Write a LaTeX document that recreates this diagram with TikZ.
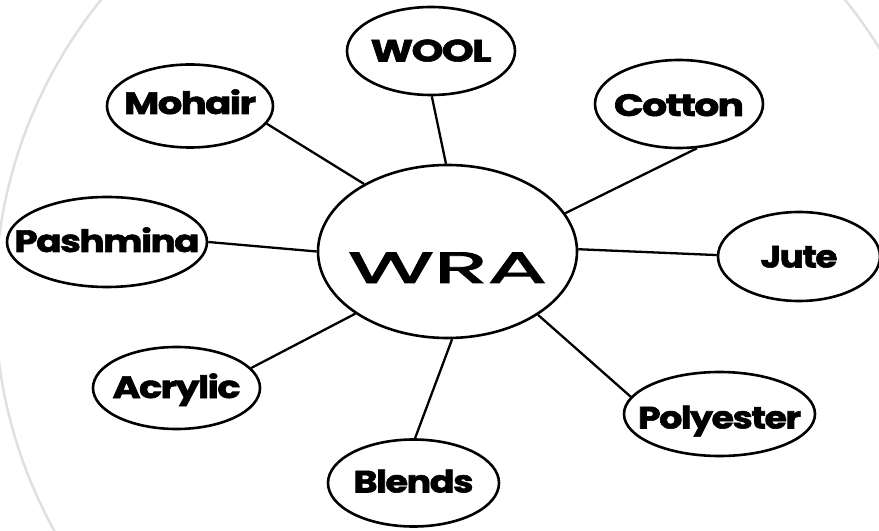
\documentclass[tikz,border=0pt]{standalone}
\usepackage{graphicx}
\usepackage{fontspec}
\setmainfont{Poppins}
\newfontfamily\labfont[LetterSpace=-4,FakeBold=1.8]{Poppins}
\newfontfamily\wrafont[FakeBold=1.8]{Poppins}
\usetikzlibrary{shapes.geometric}
% zero-size label: width, drop of baseline below the centre, text
\newcommand\flab[3]{\makebox[0pt]{\raisebox{-#2}[0pt][0pt]{\resizebox{#1}{\height}{#3}}}}
\tikzset{
  fib/.style={ellipse, draw=black, line width=2.6bp, inner sep=0pt,
    font=\labfont\bfseries\fontsize{31}{33}\selectfont},
  link/.style={draw=black, line width=2.3bp},
}
\begin{document}
\begin{tikzpicture}[x=1bp,y=-1bp]
\useasboundingbox (0,0) rectangle (879,531);
\begin{scope}
  \clip (0,0) rectangle (879,531);
  \draw[black!12, line width=2.5bp] (473,300) circle [radius=478bp];
\end{scope}
\node[fib, minimum width=259bp, minimum height=173bp,
      font=\wrafont\fontsize{44}{46}\selectfont] (wra) at (447.5,251.5) {\flab{199bp}{31.5bp}{WRA}};
\node[fib, minimum width=168bp, minimum height=88bp] (wool) at (431,51) {\flab{121bp}{10.5bp}{WOOL}};
\node[fib, minimum width=166bp, minimum height=83bp] (mohair) at (190,106) {\flab{132bp}{8bp}{Mohair}};
\node[fib, minimum width=200bp, minimum height=90bp] (pashmina) at (107,242) {\flab{185bp}{10bp}{Pashmina}};
\node[fib, minimum width=167bp, minimum height=82bp] (acrylic) at (176.5,388) {\flab{128bp}{10bp}{Acrylic}};
\node[fib, minimum width=171bp, minimum height=87bp] (blends) at (413.5,483) {\flab{120bp}{9.5bp}{Blends}};
\node[fib, minimum width=168bp, minimum height=88bp] (cotton) at (679,104) {\flab{130bp}{12bp}{Cotton}};
\node[fib, minimum width=162bp, minimum height=89bp] (jute) at (799,256.5) {\flab{77bp}{11bp}{Jute}};
\node[fib, minimum width=191bp, minimum height=84bp] (polyester) at (719.5,414) {\flab{163bp}{14.5bp}{Polyester}};
\draw[link] (mohair.-13.5) -- (wra.141);
\draw[link] (wool.-89) -- (wra.91);
\draw[link] (cotton.-68) -- (wra.18);
\draw[link] (jute.179) -- (wra.1.5);
\draw[link] (polyester.169) -- (wra.-35);
\draw[link] (blends.88) -- (wra.-87);
\draw[link] (acrylic.15) -- (wra.214);
\draw[link] (pashmina.0) -- (wra.180);
\end{tikzpicture}
\end{document}
